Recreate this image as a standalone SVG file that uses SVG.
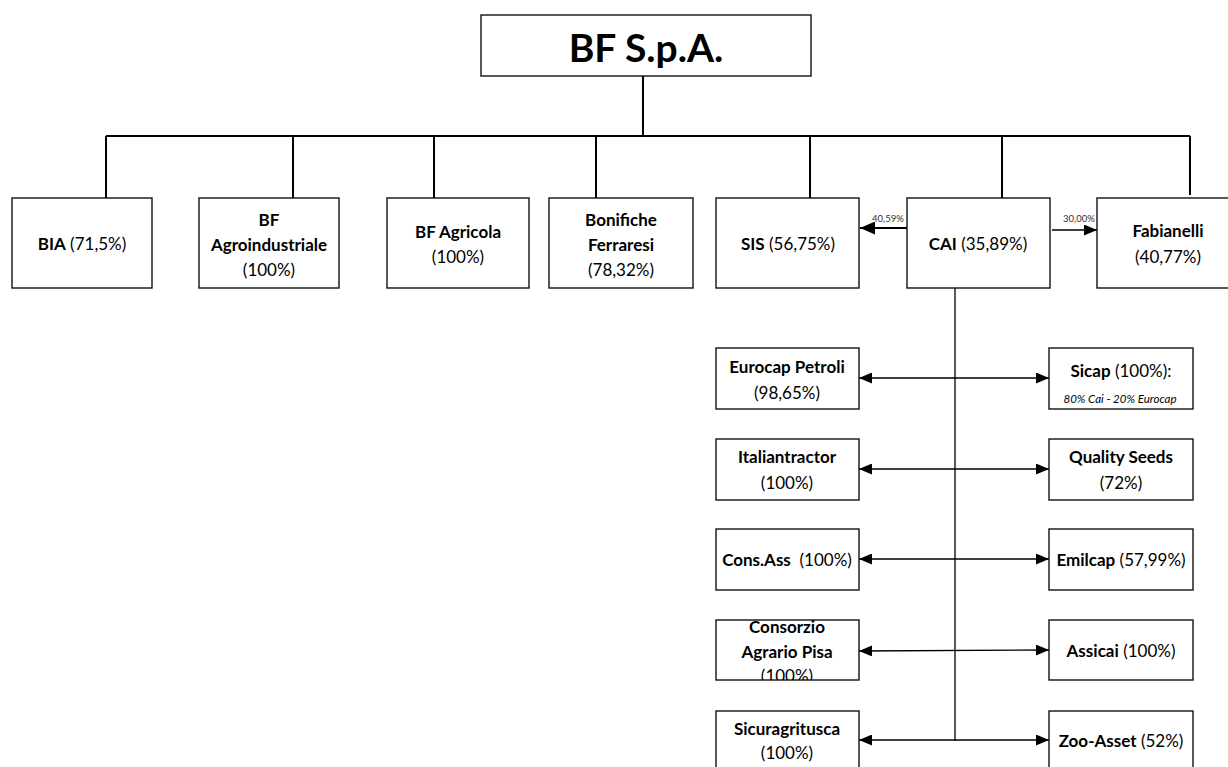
<svg xmlns="http://www.w3.org/2000/svg" width="1228" height="767" viewBox="0 0 1228 767">
<style>
.box{fill:#fff;stroke:#111;stroke-width:1.4}
.t{font-family:Lato,"Liberation Sans",sans-serif;font-size:17px;fill:#000;text-anchor:middle}
.b{font-weight:bold}
.big{font-size:39px;font-weight:bold}
.sm{font-size:11.5px;font-style:italic}
.tree{stroke:#000;stroke-width:2;fill:none}
.thin{stroke:#000;stroke-width:1.3;fill:none}
.lbl{font-family:Lato,"Liberation Sans",sans-serif;font-size:9.5px;fill:#333}
</style>
<defs>
<marker id="ah" viewBox="0 0 13 11" refX="13" refY="5.5" markerWidth="13" markerHeight="11" markerUnits="userSpaceOnUse" orient="auto-start-reverse">
<path d="M0,0L13,5.5L0,11z" fill="#000"/>
</marker>
<marker id="ahb" viewBox="0 0 15 13" refX="15" refY="6.5" markerWidth="15" markerHeight="13" markerUnits="userSpaceOnUse" orient="auto-start-reverse">
<path d="M0,0L15,6.5L0,13z" fill="#000"/>
</marker>
<clipPath id="cpPisa"><rect x="716" y="620" width="143" height="60"/></clipPath>
</defs>
<rect width="1228" height="767" fill="#fff"/>

<g id="connectors">
<path class="tree" d="M643,76V136M106,136H1190M106,136V198M293,136V198M434,136V198M596,136V198M810,136V198M1002,136V198M1190,136V195"/>
<line class="tree" x1="907" y1="228" x2="860" y2="228" stroke-width="3" marker-end="url(#ahb)"/>
<line class="thin" x1="1052" y1="230" x2="1097" y2="230" marker-end="url(#ah)"/>
<line class="thin" x1="955" y1="288" x2="955" y2="741"/>
<line class="thin" x1="859" y1="378" x2="1049" y2="378" stroke-width="3" stroke="#333" marker-start="url(#ah)" marker-end="url(#ah)"/>
<line class="thin" x1="859" y1="469" x2="1049" y2="469" stroke-width="1.6" marker-start="url(#ah)" marker-end="url(#ah)"/>
<line class="thin" x1="859" y1="559" x2="1049" y2="559" stroke-width="1.6" marker-start="url(#ah)" marker-end="url(#ah)"/>
<line class="thin" x1="859" y1="651" x2="1049" y2="650" stroke-width="1.6" marker-start="url(#ah)" marker-end="url(#ah)"/>
<line class="thin" x1="859" y1="740" x2="1049" y2="740" stroke-width="2" marker-start="url(#ah)" marker-end="url(#ah)"/>
<text class="lbl" x="872" y="222">40,59%</text>
<text class="lbl" x="1063" y="222">30,00%</text>
</g>

<g id="bfspa">
<rect class="box" x="481" y="15" width="330" height="61" stroke-width="2.2"/>
<text class="t big" x="646" y="62">BF S.p.A.</text>
</g>

<g id="bia">
<rect class="box" x="12" y="198" width="140" height="90"/>
<text class="t" x="82" y="250"><tspan class="b">BIA</tspan> (71,5%)</text>
</g>
<g id="bfagro">
<rect class="box" x="199" y="198" width="140" height="90"/>
<text class="t" x="269" y="226"><tspan class="b">BF</tspan><tspan class="b" x="269" dy="25">Agroindustriale</tspan><tspan x="269" dy="25">(100%)</tspan></text>
</g>
<g id="bfagricola">
<rect class="box" x="387" y="198" width="142" height="90"/>
<text class="t" x="458" y="238"><tspan class="b">BF Agricola</tspan><tspan x="458" dy="25">(100%)</tspan></text>
</g>
<g id="bonifiche">
<rect class="box" x="549" y="198" width="144" height="90"/>
<text class="t" x="621" y="226"><tspan class="b">Bonifiche</tspan><tspan class="b" x="621" dy="25">Ferraresi</tspan><tspan x="621" dy="25">(78,32%)</tspan></text>
</g>
<g id="sis">
<rect class="box" x="716" y="198" width="143" height="90"/>
<text class="t" x="788" y="250"><tspan class="b">SIS</tspan> (56,75%)</text>
</g>
<g id="cai">
<rect class="box" x="907" y="198" width="143" height="90"/>
<text class="t" x="978" y="250"><tspan class="b">CAI</tspan> (35,89%)</text>
</g>
<g id="fabianelli">
<rect class="box" x="1097" y="198" width="145" height="90"/>
<text class="t" x="1168" y="237"><tspan class="b">Fabianelli</tspan><tspan x="1168" dy="26">(40,77%)</tspan></text>
</g>

<g id="eurocap">
<rect class="box" x="716" y="348" width="143" height="61"/>
<text class="t" x="787" y="373"><tspan class="b">Eurocap Petroli</tspan><tspan x="787" dy="26">(98,65%)</tspan></text>
</g>
<g id="sicap">
<rect class="box" x="1049" y="348" width="144" height="61"/>
<text class="t" x="1121" y="377"><tspan class="b">Sicap</tspan> (100%):</text>
<text class="t sm" x="1120" y="403">80% Cai - 20% Eurocap</text>
</g>
<g id="italiantractor">
<rect class="box" x="716" y="439" width="143" height="61"/>
<text class="t" x="787" y="463"><tspan class="b">Italiantractor</tspan><tspan x="787" dy="26">(100%)</tspan></text>
</g>
<g id="qualityseeds">
<rect class="box" x="1049" y="439" width="144" height="61"/>
<text class="t" x="1121" y="463"><tspan class="b">Quality Seeds</tspan><tspan x="1121" dy="26">(72%)</tspan></text>
</g>
<g id="consass">
<rect class="box" x="716" y="529" width="143" height="61"/>
<text class="t" x="787" y="566" xml:space="preserve"><tspan class="b">Cons.Ass</tspan>  (100%)</text>
</g>
<g id="emilcap">
<rect class="box" x="1049" y="529" width="144" height="61"/>
<text class="t" x="1121" y="566"><tspan class="b">Emilcap</tspan> (57,99%)</text>
</g>
<g id="consorzio">
<rect class="box" x="716" y="620" width="143" height="60"/>
<text class="t" x="787" y="633" clip-path="url(#cpPisa)"><tspan class="b">Consorzio</tspan><tspan class="b" x="787" dy="24.5">Agrario Pisa</tspan><tspan x="787" dy="24.5">(100%)</tspan></text>
</g>
<g id="assicai">
<rect class="box" x="1049" y="620" width="144" height="60"/>
<text class="t" x="1121" y="657"><tspan class="b">Assicai</tspan> (100%)</text>
</g>
<g id="sicuragritusca">
<rect class="box" x="716" y="711" width="143" height="70"/>
<text class="t" x="787" y="735"><tspan class="b">Sicuragritusca</tspan><tspan x="787" dy="24">(100%)</tspan></text>
</g>
<g id="zooasset">
<rect class="box" x="1049" y="711" width="144" height="70"/>
<text class="t" x="1121" y="747"><tspan class="b">Zoo-Asset</tspan> (52%)</text>
</g>
</svg>
